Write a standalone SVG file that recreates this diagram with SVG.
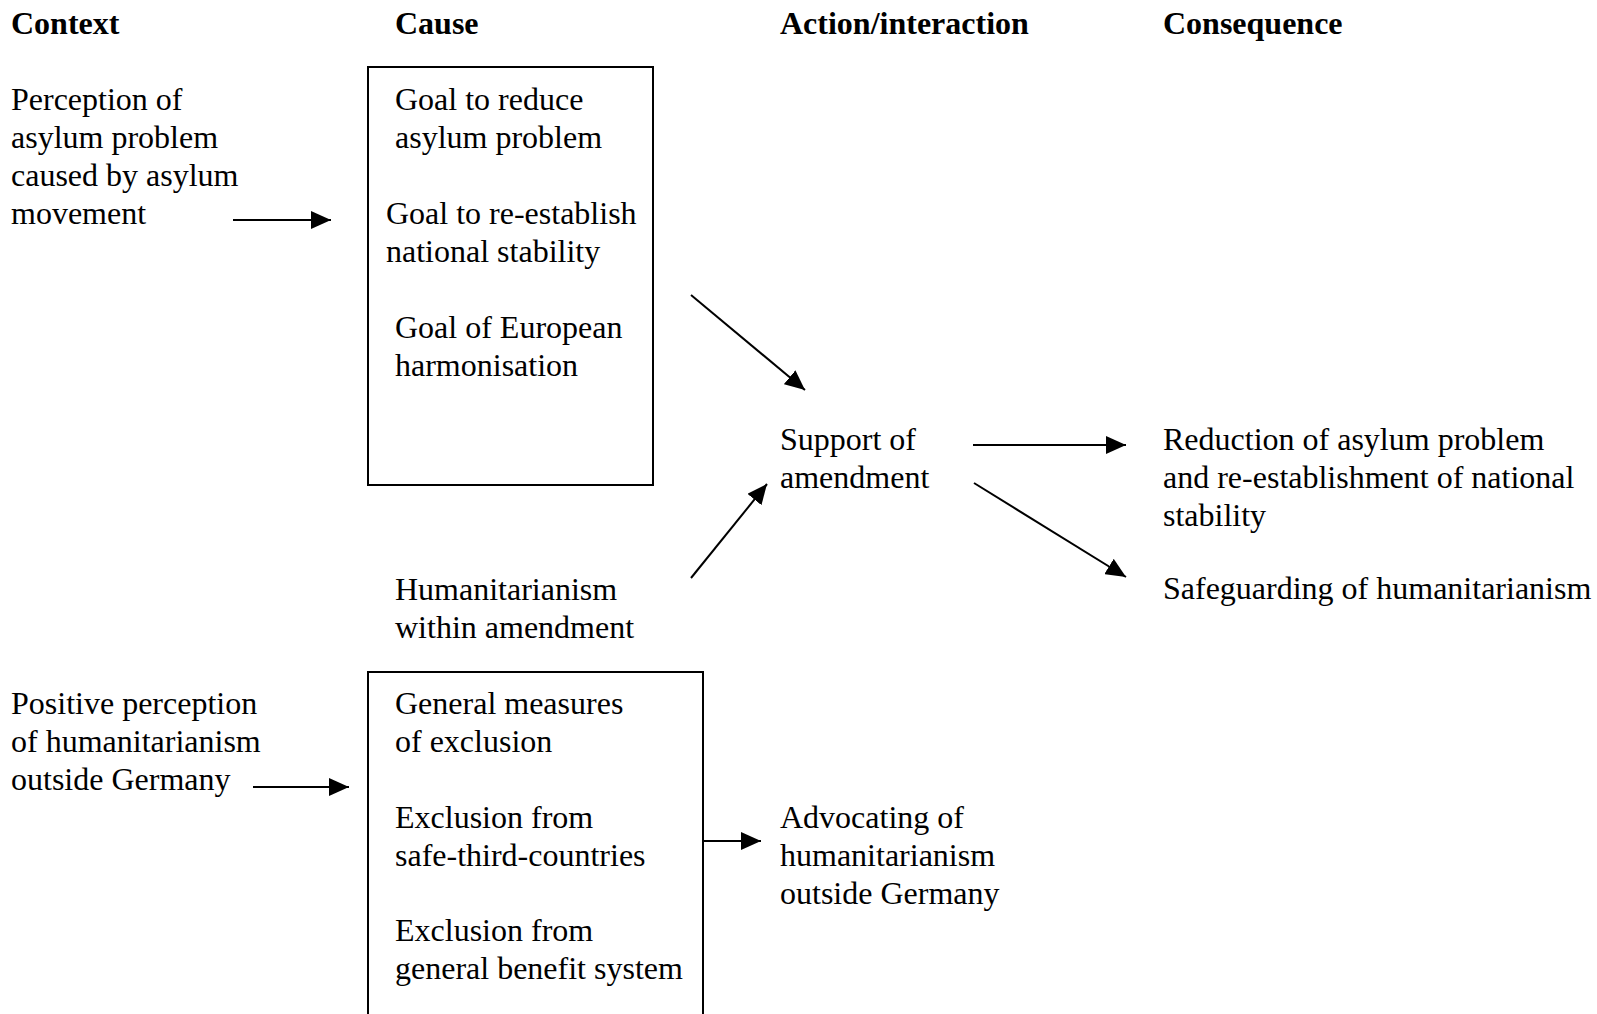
<svg xmlns="http://www.w3.org/2000/svg" width="1597" height="1014" viewBox="0 0 1597 1014">
  <style>
    .head { font-family: "Liberation Serif", "Times New Roman", serif; font-weight: bold; font-size: 32px; fill: #000; }
    .txt { font-family: "Liberation Serif", "Times New Roman", serif; font-size: 32px; fill: #000; }
    .box { fill: none; stroke: #000; stroke-width: 2; }
    .conn { stroke: #000; stroke-width: 2; fill: none; marker-end: url(#arrow); }
  </style>
  <defs>
    <marker id="arrow" viewBox="0 0 20 18" refX="20" refY="9" markerWidth="20" markerHeight="18" markerUnits="userSpaceOnUse" orient="auto">
      <path d="M0,0 L20,9 L0,18 Z" fill="#000"/>
    </marker>
  </defs>
  <rect width="1597" height="1014" fill="#fff"/>

  <!-- column headings -->
  <g id="headings">
    <text class="head" x="11" y="34">Context</text>
    <text class="head" x="395" y="34">Cause</text>
    <text class="head" x="780" y="34">Action/interaction</text>
    <text class="head" x="1163" y="34">Consequence</text>
  </g>

  <g id="ctx-asylum">
    <text class="txt" x="11" y="110">Perception of</text>
    <text class="txt" x="11" y="148">asylum problem</text>
    <text class="txt" x="11" y="186">caused by asylum</text>
    <text class="txt" x="11" y="224">movement</text>
  </g>

  <g id="cause-goals">
    <rect class="box" x="368" y="67" width="285" height="418"/>
    <text class="txt" x="395" y="110">Goal to reduce</text>
    <text class="txt" x="395" y="148">asylum problem</text>
    <text class="txt" x="386" y="224">Goal to re-establish</text>
    <text class="txt" x="386" y="262">national stability</text>
    <text class="txt" x="395" y="338">Goal of European</text>
    <text class="txt" x="395" y="376">harmonisation</text>
  </g>

  <g id="cause-humanitarianism">
    <text class="txt" x="395" y="600">Humanitarianism</text>
    <text class="txt" x="395" y="638">within amendment</text>
  </g>

  <g id="action-support">
    <text class="txt" x="780" y="450">Support of</text>
    <text class="txt" x="780" y="488">amendment</text>
  </g>

  <g id="cons-reduction">
    <text class="txt" x="1163" y="450">Reduction of asylum problem</text>
    <text class="txt" x="1163" y="488">and re-establishment of national</text>
    <text class="txt" x="1163" y="526">stability</text>
  </g>

  <g id="cons-safeguarding">
    <text class="txt" x="1163" y="599">Safeguarding of humanitarianism</text>
  </g>

  <g id="ctx-positive">
    <text class="txt" x="11" y="714">Positive perception</text>
    <text class="txt" x="11" y="752">of humanitarianism</text>
    <text class="txt" x="11" y="790">outside Germany</text>
  </g>

  <g id="cause-exclusion">
    <rect class="box" x="368" y="672" width="335" height="360"/>
    <text class="txt" x="395" y="714">General measures</text>
    <text class="txt" x="395" y="752">of exclusion</text>
    <text class="txt" x="395" y="828">Exclusion from</text>
    <text class="txt" x="395" y="866">safe-third-countries</text>
    <text class="txt" x="395" y="941">Exclusion from</text>
    <text class="txt" x="395" y="979">general benefit system</text>
  </g>

  <g id="action-advocating">
    <text class="txt" x="780" y="828">Advocating of</text>
    <text class="txt" x="780" y="866">humanitarianism</text>
    <text class="txt" x="780" y="904">outside Germany</text>
  </g>

  <g id="connectors">
    <line class="conn" x1="233" y1="220" x2="331" y2="220"/>
    <line class="conn" x1="691" y1="295" x2="805" y2="390"/>
    <line class="conn" x1="691" y1="578" x2="767" y2="484"/>
    <line class="conn" x1="973" y1="445" x2="1126" y2="445"/>
    <line class="conn" x1="974" y1="483" x2="1126" y2="577"/>
    <line class="conn" x1="253" y1="787" x2="349" y2="787"/>
    <line class="conn" x1="703" y1="841" x2="761" y2="841"/>
  </g>
</svg>
